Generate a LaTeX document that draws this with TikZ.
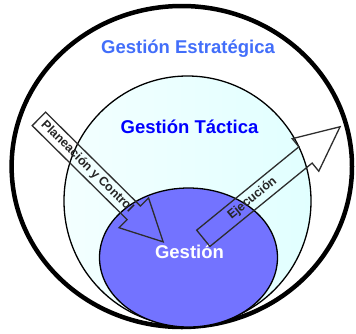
\documentclass[tikz,border=0pt]{standalone}
\usepackage{fontspec}
\setmainfont{Liberation Sans}
\definecolor{outerblue}{RGB}{66,110,250}
\definecolor{midcyan}{RGB}{225,255,255}
\definecolor{innerblue}{RGB}{115,115,255}
\definecolor{arrowline}{RGB}{45,45,45}
\begin{document}
\begin{tikzpicture}[x=1pt,y=-1pt,
  ring/.style={draw=black, line width=1.3pt},
  blockarrow/.style={draw=arrowline, line width=1.3pt, line join=miter},
  bigtitle/.style={font=\fontsize{18.5}{20}\selectfont\bfseries, inner sep=0pt, anchor=base},
  arrowtext/.style={font=\fontsize{12.5}{14}\selectfont\bfseries, text=black!85, inner sep=0pt, transform shape}]
\useasboundingbox (0,0) rectangle (356,333);
% outer ellipse
\draw[line width=4.5pt, fill=white] (181.8,166.5) ellipse [x radius=170.2, y radius=160.5];
% middle ellipse
\shade[left color=midcyan!40!white, right color=midcyan] (187.5,201) ellipse [x radius=123.5, y radius=125];
\draw[ring] (187.5,201) ellipse [x radius=123.5, y radius=125];
% inner ellipse
\draw[ring, fill=innerblue] (188.5,257.5) ellipse [x radius=89, y radius=69.5];
% texts
\node[bigtitle, text=outerblue] (estr) at (188,53) {Gestión Estratégica};
\node[bigtitle, text=blue] (tact) at (189.5,133.5) {Gestión Táctica};
\node[bigtitle, text=white] (gest) at (189.5,258) {Gestión};
% arrow: Planeacion y Control
\begin{scope}[shift={(38.9,118.9)}, rotate=-44.7]
  \draw[blockarrow] (0,-9.5) -- (133.5,-9.5) -- (133.5,-21) -- (174.8,0) -- (133.5,21) -- (133.5,9.5) -- (0,9.5) -- cycle;
  \node[arrowtext] (plan) at (68,0) {Planeación y Control};
\end{scope}
% arrow: Ejecucion
\begin{scope}[shift={(203.3,238.3)}, rotate=39.2]
  \draw[blockarrow] (0,-10.5) -- (131.9,-10.5) -- (131.9,-21) -- (176.5,0) -- (131.9,21) -- (131.9,10.5) -- (0,10.5) -- cycle;
  \node[arrowtext] (ejec) at (63.3,0) {Ejecución};
\end{scope}
\end{tikzpicture}
\end{document}
